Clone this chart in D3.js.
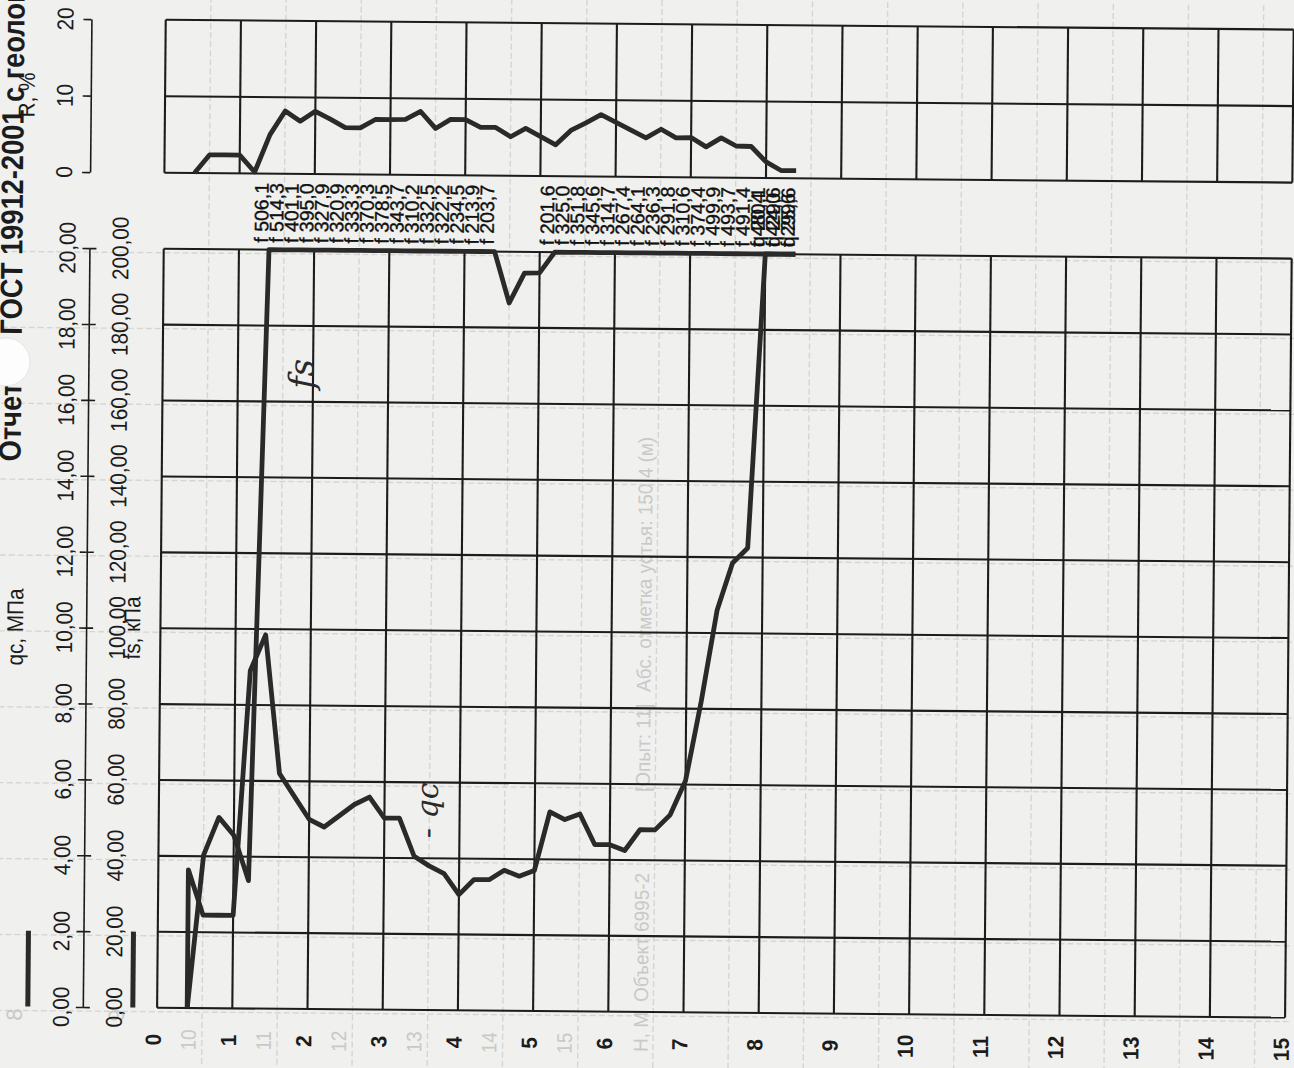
<!DOCTYPE html>
<html>
<head>
<meta charset="utf-8">
<script src="https://cdn.jsdelivr.net/npm/d3@7"></script>
<style>
  html, body { margin: 0; padding: 0; background: #f0f0ee; }
  svg { display: block; }
</style>
</head>
<body>
<svg id="chart" width="1294" height="1068"></svg>
<script>
// ---- Static penetration log, borehole test: depth (m) along the horizontal axis ----
const depths = [0.4, 0.6, 0.8, 1.0, 1.2, 1.4, 1.6, 1.8, 2.0, 2.2, 2.4, 2.6, 2.8, 3.0, 3.2, 3.4,
  3.6, 3.8, 4.0, 4.2, 4.4, 4.6, 4.8, 5.0, 5.2, 5.4, 5.6, 5.8, 6.0, 6.2, 6.4, 6.6, 6.8, 7.0,
  7.2, 7.4, 7.6, 7.8, 8.0, 8.2, 8.4];

// cone resistance qc, MPa
const qcValues = [3.64, 2.45, 2.45, 2.45, 8.9, 9.85, 6.2, 5.6, 5.0, 4.8, 5.1, 5.4, 5.6, 5.05,
  5.05, 4.05, 3.8, 3.6, 3.05, 3.45, 3.45, 3.7, 3.55, 3.7, 5.25, 5.05, 5.2, 4.4, 4.4, 4.25,
  4.8, 4.8, 5.2, 6.1, 8.2, 10.6, 11.85, 12.25, 20.4, 24.0, 25.6];

// sleeve friction fs, kPa
const fsValues = [0, 40.3, 50.3, 45.6, 33.7, 506.1, 514.3, 401.1, 395.0, 327.9, 320.9, 333.3,
  370.3, 378.5, 343.7, 310.2, 332.5, 322.2, 234.5, 213.9, 203.7, 186.5, 194.4, 194.5, 201.6,
  325.0, 351.8, 345.6, 314.7, 267.4, 264.1, 236.3, 291.8, 310.6, 374.4, 499.9, 493.7, 491.4,
  480.1, 429.6, 299.6];

// friction ratio R, %
const rValues = [0, 2.4, 2.4, 2.4, 0.2, 5.1, 8.2, 6.9, 8.2, 7.2, 6.1, 6.1, 7.2, 7.2, 7.25,
  8.3, 6.1, 7.3, 7.3, 6.3, 6.3, 5.1, 6.2, 5.15, 4.1, 6.0, 7.0, 8.1, 7.1, 6.1, 5.1, 6.25, 5.15,
  5.2, 4.0, 5.2, 4.15, 4.1, 2.1, 1.0, 1.0];

const depthTicks = d3.range(0, 16);
const qcTicks = [0, 2, 4, 6, 8, 10, 12, 14, 16, 18, 20];
const qcTickLabels = ["0,00", "2,00", "4,00", "6,00", "8,00", "10,00", "12,00", "14,00", "16,00", "18,00", "20,00"];
const fsTickLabels = ["0,00", "20,00", "40,00", "60,00", "80,00", "100,00", "120,00", "140,00", "160,00", "180,00", "200,00"];
const rTicks = [0, 10, 20];
const rTickLabels = ["0", "10", "20"];

const QC_MAX = 20, FS_MAX = 200;
const comma = v => d3.format(".1f")(v).replace(".", ",");

// ---- geometry ----
const svg = d3.select("#chart");
svg.append("rect").attr("width", 1294).attr("height", 1068).attr("fill", "#f0f0ee");

// the sheet sits slightly askew on the scanner bed
const page = svg.append("g").attr("transform", "rotate(0.5 650 530)");

const x = d3.scaleLinear().domain([0, 15]).range([161.3, 1289.3]);
const yQ = d3.scaleLinear().domain([0, QC_MAX]).range([1012, 253]);
const yF = d3.scaleLinear().domain([0, FS_MAX]).range([1012, 253]);
const yR = d3.scaleLinear().domain([0, 20]).range([177, 24]);

const ink = "#1c1c1c";
const trace = "#2a2a2a";

// faint show-through of the reverse side
const ghost = page.append("g").attr("stroke", "#d5d5d3").attr("stroke-width", 1.4).attr("fill", "none");
qcTicks.forEach(t => ghost.append("line").attr("x1", 0).attr("x2", 1294)
  .attr("y1", yQ(t) + 4).attr("y2", yQ(t) + 4).attr("stroke-dasharray", "6 3"));
depthTicks.slice(0, 15).forEach(d => ghost.append("line")
  .attr("x1", x(d) + 45).attr("x2", x(d) + 45).attr("y1", 0).attr("y2", 1068)
  .attr("stroke-dasharray", "6 3"));

const ghostText = page.append("g").attr("fill", "#c9c9c7").attr("font-family", "Liberation Sans, Arial, sans-serif");
function rotText(g, str, px, py, size, anchor, sx) {
  return g.append("text")
    .attr("transform", `translate(${px},${py}) rotate(-90) scale(${sx || 1},1)`)
    .attr("text-anchor", anchor || "middle")
    .attr("font-size", size)
    .text(str);
}
[10, 11, 12, 13, 14, 15].forEach((v, i) => rotText(ghostText, String(v), x(i + 0.45) + 5, 1044, 21, "middle", 0.9));
rotText(ghostText, "8", 26, 1020, 22, "middle", 1);
rotText(ghostText, "9", 128, 1020, 22, "middle", 1);
[["Н, М", 1052], ["Объект  6995-2", 1002], ["[Опыт: 11]", 792], ["Абс. отметка устья: 150,4 (м)", 692]]
  .forEach(([s, py]) => rotText(ghostText, s, 652, py, 20, "start", 0.95));

// ---- panels: grid ----
const grid = page.append("g").attr("stroke", ink).attr("stroke-width", 2.1).attr("fill", "none");
depthTicks.forEach(d => {
  grid.append("line").attr("x1", x(d)).attr("x2", x(d)).attr("y1", yQ(0)).attr("y2", yQ(QC_MAX));
  grid.append("line").attr("x1", x(d)).attr("x2", x(d)).attr("y1", yR(0)).attr("y2", yR(20));
});
qcTicks.forEach(t => grid.append("line").attr("x1", x(0)).attr("x2", x(15)).attr("y1", yQ(t)).attr("y2", yQ(t)));
rTicks.forEach(t => grid.append("line").attr("x1", x(0)).attr("x2", x(15)).attr("y1", yR(t)).attr("y2", yR(t)));

// ---- value axes on the left ----
const axisX = 87;
const qAxis = page.append("g").attr("transform", `translate(${axisX},0)`)
  .call(d3.axisLeft(yQ).tickValues(qcTicks).tickSizeInner(7).tickSizeOuter(0).tickFormat(""));
qAxis.selectAll(".tick line").clone().attr("x2", 7);
qAxis.selectAll("path, line").attr("stroke", ink).attr("stroke-width", 1.6);

const rAxis = page.append("g").attr("transform", `translate(${axisX},0)`)
  .call(d3.axisLeft(yR).tickValues(rTicks).tickSizeInner(8).tickSizeOuter(0).tickFormat(""));
rAxis.selectAll("path, line").attr("stroke", ink).attr("stroke-width", 1.6);

const labels = page.append("g").attr("fill", ink).attr("font-family", "Liberation Sans, Arial, sans-serif");
qcTicks.forEach((t, i) => {
  rotText(labels, qcTickLabels[i], 73, yQ(t), 23, "middle", 0.9);
  rotText(labels, fsTickLabels[i], 126, yF(t * 10), 23, "middle", 0.9);
});
rotText(labels, "qc, МПа", 24, yQ(10), 23, "middle", 0.9);
rotText(labels, "fs, кПа", 141, yQ(10), 23, "middle", 0.9);
rTicks.forEach((t, i) => rotText(labels, rTickLabels[i], 69, yR(t), 23, "middle", 0.9));
rotText(labels, "R, %", 31, yR(10), 23, "middle", 0.9);

// depth labels
depthTicks.forEach(d => rotText(labels, String(d), x(d) + 4, 1044, 22, "middle", 0.95).attr("font-weight", "bold"));

// title (runs off the sheet edge)
rotText(labels, "Отчет по ГОСТ 19912-2001 с геологией", 20, 467, 31, "start", 0.88).attr("font-weight", "bold");

// legend strokes for the two traces
[[32, "qc"], [137, "fs"]].forEach(([lx]) => page.append("line")
  .attr("x1", lx).attr("x2", lx).attr("y1", yQ(0)).attr("y2", yQ(2))
  .attr("stroke", trace).attr("stroke-width", 5));

// ---- traces ----
const rows = depths.map((d, i) => ({ d, qc: qcValues[i], fs: fsValues[i], r: rValues[i] }));

const qcLine = d3.line().x(p => x(p.d)).y(p => yQ(Math.min(p.qc, QC_MAX)));
const fsLine = d3.line().x(p => x(p.d)).y(p => yF(Math.min(p.fs, FS_MAX)));
const rLine = d3.line().x(p => x(p.d)).y(p => yR(p.r));

const traces = page.append("g").attr("fill", "none").attr("stroke", trace)
  .attr("stroke-width", 4.8).attr("stroke-linejoin", "round");
// cone trace starts from zero at the first reading depth
traces.append("path").attr("d", qcLine([{ d: depths[0], qc: 0 }, ...rows]));
traces.append("path").attr("d", fsLine(rows));
traces.append("path").attr("d", rLine(rows));

// off-scale readings written above the panel
const offScale = page.append("g").attr("fill", "#111").attr("stroke", "#111").attr("stroke-width", 0.35)
  .attr("font-family", "Liberation Sans, Arial, sans-serif");
rows.forEach(p => {
  if (p.fs > FS_MAX) rotText(offScale, "f  " + comma(p.fs), x(p.d) - 1, yF(FS_MAX) - 7, 19.5, "start", 1);
  if (p.qc > QC_MAX) rotText(offScale, "q  " + comma(p.qc), x(p.d) - 1, yQ(QC_MAX) - 7, 19.5, "start", 1);
});

// pen notes on the traces
const notes = page.append("g").attr("fill", "#2a2a2a").attr("font-family", "DejaVu Serif, serif").attr("font-style", "italic");
rotText(notes, "fs", 312, 392, 34, "start", 1);
rotText(notes, "- qc", 440, 840, 30, "start", 1);

// punched hole
svg.append("circle").attr("cx", 6).attr("cy", 362).attr("r", 24).attr("fill", "#fdfdfd")
  .attr("stroke", "#e4e4e4").attr("stroke-width", 1);
</script>
</body>
</html>
